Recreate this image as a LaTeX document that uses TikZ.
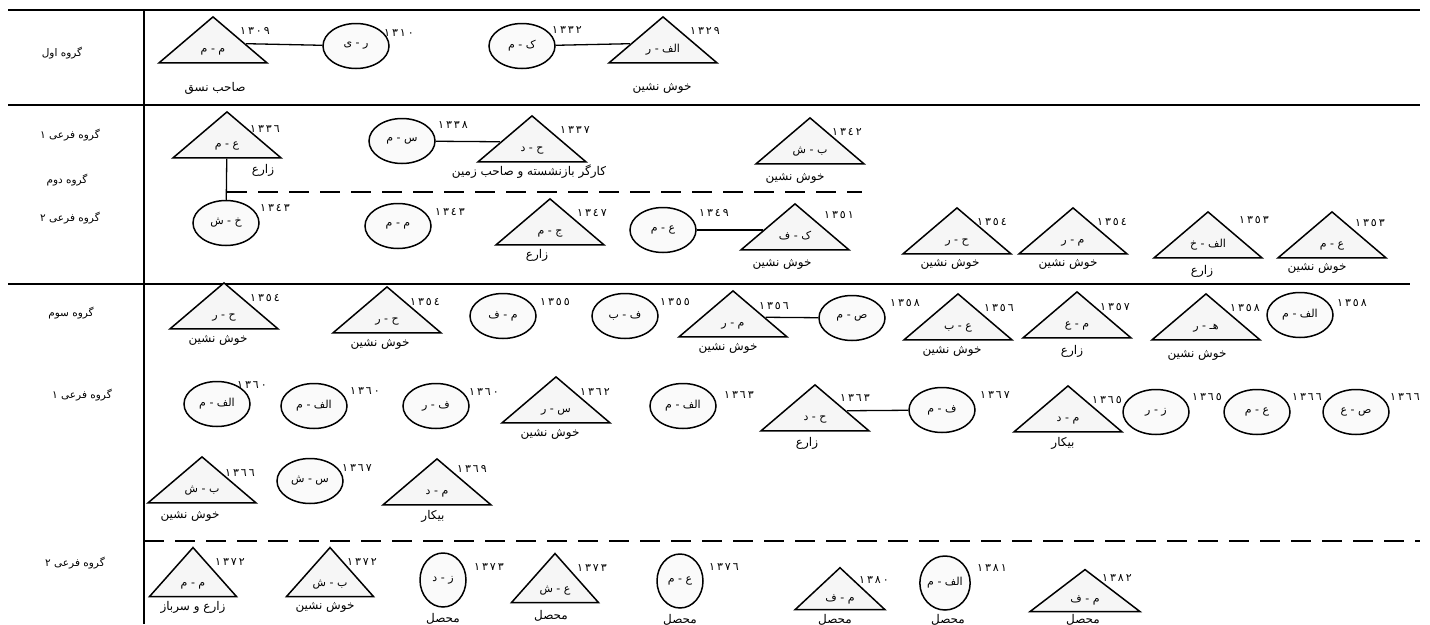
\documentclass[tikz,border=0pt]{standalone}
\usepackage{fontspec}
\usetikzlibrary{shapes.geometric}
\newfontfamily\arabicfont[Script=Arabic]{DejaVu Sans}
\newfontfamily\yearfont[Script=Arabic, LetterSpace=18]{DejaVu Sans}
\TeXXeTstate=1
\newcommand{\fa}[1]{\beginR #1\endR}
% text in a triangle takes no room, so the triangle keeps its size
\newcommand{\ini}[1]{\makebox[0pt]{\raisebox{-9pt}[0pt][0pt]{\fa{#1}}}}

\begin{document}
\begin{tikzpicture}[
    x=1pt, y=-1pt,
    tri/.style={draw, line width=1.5pt, fill=gray!7, isosceles triangle,
      isosceles triangle stretches, shape border rotate=90,
      minimum width=108pt, minimum height=46pt, inner sep=0pt,
      font=\arabicfont\fontsize{11}{12}\selectfont},
    person/.style={draw, ellipse, line width=1.5pt, fill=gray!4,
      minimum width=66pt, minimum height=45pt, inner sep=0pt,
      font=\arabicfont\fontsize{11}{12}\selectfont},
    year/.style={font=\yearfont\fontsize{11}{12}\selectfont, inner sep=0pt},
    job/.style={font=\arabicfont\fontsize{12}{13}\selectfont, inner sep=0pt},
    grp/.style={font=\arabicfont\fontsize{10.5}{12}\selectfont, inner sep=0pt},
    link/.style={line width=1.3pt},
    rule/.style={line width=1.6pt},
    split/.style={line width=1.5pt, dash pattern=on 20pt off 11pt}
  ]
  \useasboundingbox (0,0) rectangle (1430,624);

  % table rules
  \draw[rule] (8,10) -- (1420,10);
  \draw[rule] (8,105) -- (1420,105);
  \draw[rule] (8,284) -- (1410,284);
  \draw[rule] (144,10) -- (144,624);
  \draw[split] (227,192) -- (862,192);
  \draw[split] (144,541) -- (1420,541);

  % group names
  \node[grp] (g1) at (62,53) {\fa{گروه اول}};
  \node[grp] (g2) at (70,135) {\fa{گروه فرعی ١}};
  \node[grp] (g3) at (67,180) {\fa{گروه دوم}};
  \node[grp] (g4) at (70,218) {\fa{گروه فرعی ٢}};
  \node[grp] (g5) at (71,313) {\fa{گروه سوم}};
  \node[grp] (g6) at (82,395) {\fa{گروه فرعی ١}};
  \node[grp] (g7) at (75,563) {\fa{گروه فرعی ٢}};

  % first group
  \node[tri] (a1) at (213,43) {\ini{م - م}};
  \node[year] (a1y) at (255,31) {١٣٠٩};
  \node[job] (a1j) at (215,88) {\fa{صاحب نسق}};
  \node[person] (a2) at (356,46) {\fa{ر - ی}};
  \node[year] (a2y) at (399,33) {١٣١٠};
  \node[person] (a3) at (522,46) {\fa{ک - م}};
  \node[year] (a3y) at (567,30) {١٣٣٢};
  \node[tri] (a4) at (663,43) {\ini{الف - ر}};
  \node[year] (a4y) at (705,31) {١٣٢٩};
  \node[job] (a4j) at (662,88) {\fa{خوش نشین}};
  \draw[link] (a1) -- (a2);
  \draw[link] (a3) -- (a4);

  % second group
  \node[tri] (b1) at (227,138) {\ini{ع - م}};
  \node[year] (b1y) at (265,129) {١٣٣٦};
  \node[job] (b1j) at (263,170) {\fa{زارع}};
  \node[person] (b2) at (226,223) {\fa{خ - ش}};
  \node[year] (b2y) at (275,208) {١٣٤٣};
  \node[person] (b3) at (402,141) {\fa{س - م}};
  \node[year] (b3y) at (453,125) {١٣٣٨};
  \node[tri] (b4) at (532,142) {\ini{ح - د}};
  \node[year] (b4y) at (575,130) {١٣٣٧};
  \node[job] (b4j) at (529,172) {\fa{کارگر بازنشسته و صاحب زمین}};
  \node[tri] (b5) at (810,144) {\ini{ب - ش}};
  \node[year] (b5y) at (847,132) {١٣٤٢};
  \node[job] (b5j) at (795,178) {\fa{خوش نشین}};
  \node[person] (b6) at (398,226) {\fa{م - م}};
  \node[year] (b6y) at (450,212) {١٣٤٣};
  \node[tri] (b7) at (550,225) {\ini{ج - م}};
  \node[year] (b7y) at (592,213) {١٣٤٧};
  \node[job] (b7j) at (537,255) {\fa{زارع}};
  \node[person] (b8) at (663,230) {\fa{ع - م}};
  \node[year] (b8y) at (714,213) {١٣٤٩};
  \node[tri] (b9) at (795,230) {\ini{ک - ف}};
  \node[year] (b9y) at (839,215) {١٣٥١};
  \node[job] (b9j) at (782,264) {\fa{خوش نشین}};
  \node[tri] (b10) at (957,234) {\ini{ح - ر}};
  \node[year] (b10y) at (992,222) {١٣٥٤};
  \node[job] (b10j) at (950,264) {\fa{خوش نشین}};
  \node[tri] (b11) at (1073,234) {\ini{م - ر}};
  \node[year] (b11y) at (1112,222) {١٣٥٤};
  \node[job] (b11j) at (1068,264) {\fa{خوش نشین}};
  \node[tri] (b12) at (1208,238) {\ini{الف - خ}};
  \node[year] (b12y) at (1254,220) {١٣٥٣};
  \node[job] (b12j) at (1202,271) {\fa{زارع}};
  \node[tri] (b13) at (1332,238) {\ini{ع - م}};
  \node[year] (b13y) at (1370,223) {١٣٥٣};
  \node[job] (b13j) at (1317,268) {\fa{خوش نشین}};
  \draw[link] (b1) -- (b2);
  \draw[link] (b3) -- (b4);
  \draw[link] (b8) -- (b9);

  % third group
  \node[tri] (c1) at (224,309) {\ini{ح - ر}};
  \node[year] (c1y) at (265,298) {١٣٥٤};
  \node[job] (c1j) at (218,340) {\fa{خوش نشین}};
  \node[tri] (c2) at (387,313) {\ini{ح - ر}};
  \node[year] (c2y) at (425,302) {١٣٥٤};
  \node[job] (c2j) at (380,344) {\fa{خوش نشین}};
  \node[person] (c3) at (503,316) {\fa{م - ف}};
  \node[year] (c3y) at (555,302) {١٣٥٥};
  \node[person] (c4) at (625,316) {\fa{ف - ب}};
  \node[year] (c4y) at (675,302) {١٣٥٥};
  \node[tri] (c5) at (733,317) {\ini{م - ر}};
  \node[year] (c5y) at (774,306) {١٣٥٦};
  \node[job] (c5j) at (728,348) {\fa{خوش نشین}};
  \node[person] (c6) at (852,318) {\fa{ص - م}};
  \node[year] (c6y) at (905,303) {١٣٥٨};
  \node[tri] (c7) at (958,320) {\ini{ع - ب}};
  \node[year] (c7y) at (999,308) {١٣٥٦};
  \node[job] (c7j) at (952,351) {\fa{خوش نشین}};
  \node[tri] (c8) at (1077,318) {\ini{م - ع}};
  \node[year] (c8y) at (1115,307) {١٣٥٧};
  \node[job] (c8j) at (1072,351) {\fa{زارع}};
  \node[tri] (c9) at (1206,320) {\ini{هـ - ر}};
  \node[year] (c9y) at (1245,308) {١٣٥٨};
  \node[job] (c9j) at (1197,355) {\fa{خوش نشین}};
  \node[person] (c10) at (1300,315) {\fa{الف - م}};
  \node[year] (c10y) at (1352,303) {١٣٥٨};
  \draw[link] (c5) -- (c6);

  \node[person] (c11) at (217,404) {\fa{الف - م}};
  \node[year] (c11y) at (252,385) {١٣٦٠};
  \node[person] (c12) at (314,406) {\fa{الف - م}};
  \node[year] (c12y) at (365,391) {١٣٦٠};
  \node[person] (c13) at (436,406) {\fa{ف - ر}};
  \node[year] (c13y) at (484,392) {١٣٦٠};
  \node[tri] (c14) at (556,403) {\ini{س - ر}};
  \node[year] (c14y) at (595,392) {١٣٦٢};
  \node[job] (c14j) at (550,434) {\fa{خوش نشین}};
  \node[person] (c15) at (683,406) {\fa{الف - م}};
  \node[year] (c15y) at (739,395) {١٣٦٣};
  \node[tri] (c16) at (815,411) {\ini{ح - د}};
  \node[year] (c16y) at (855,398) {١٣٦٣};
  \node[job] (c16j) at (807,443) {\fa{زارع}};
  \node[person] (c17) at (942,410) {\fa{ف - م}};
  \node[year] (c17y) at (995,395) {١٣٦٧};
  \node[tri] (c18) at (1068,412) {\ini{م - د}};
  \node[year] (c18y) at (1107,400) {١٣٦٥};
  \node[job] (c18j) at (1063,443) {\fa{بیکار}};
  \node[person] (c19) at (1156,412) {\fa{ز - ر}};
  \node[year] (c19y) at (1207,397) {١٣٦٥};
  \node[person] (c20) at (1257,412) {\fa{ع - م}};
  \node[year] (c20y) at (1307,397) {١٣٦٦};
  \node[person] (c21) at (1356,412) {\fa{ص - ع}};
  \node[year] (c21y) at (1405,397) {١٣٦٦};
  \draw[link] (c16) -- (c17);

  \node[tri] (c22) at (202,483) {\ini{ب - ش}};
  \node[year] (c22y) at (240,473) {١٣٦٦};
  \node[job] (c22j) at (190,516) {\fa{خوش نشین}};
  \node[person] (c23) at (310,481) {\fa{س - ش}};
  \node[year] (c23y) at (357,468) {١٣٦٧};
  \node[tri] (c24) at (437,485) {\ini{م - د}};
  \node[year] (c24y) at (472,469) {١٣٦٩};
  \node[job] (c24j) at (433,516) {\fa{بیکار}};

  % last subgroup
  \node[tri, minimum width=87pt, minimum height=49pt] (d1) at (193,577) {\ini{م - م}};
  \node[year] (d1y) at (230,562) {١٣٧٢};
  \node[job] (d1j) at (193,607) {\fa{زارع و سرباز}};
  \node[tri, minimum width=87pt, minimum height=49pt] (d2) at (330,577) {\ini{ب - ش}};
  \node[year] (d2y) at (362,562) {١٣٧٢};
  \node[job] (d2j) at (325,607) {\fa{خوش نشین}};
  \node[person, minimum width=46pt, minimum height=54pt] (d3) at (443,580) {\fa{ز - د}};
  \node[year] (d3y) at (489,567) {١٣٧٣};
  \node[job] (d3j) at (443,619) {\fa{محصل}};
  \node[tri, minimum width=87pt, minimum height=49pt] (d4) at (555,583) {\ini{ع - ش}};
  \node[year] (d4y) at (592,568) {١٣٧٣};
  \node[job] (d4j) at (551,616) {\fa{محصل}};
  \node[person, minimum width=46pt, minimum height=54pt] (d5) at (680,581) {\fa{ع - م}};
  \node[year] (d5y) at (724,567) {١٣٧٦};
  \node[job] (d5j) at (680,620) {\fa{محصل}};
  \node[tri, minimum width=90pt, minimum height=42pt] (d6) at (840,592) {\ini{م - ف}};
  \node[year] (d6y) at (874,580) {١٣٨٠};
  \node[job] (d6j) at (835,620) {\fa{محصل}};
  \node[person, minimum width=46pt, minimum height=54pt] (d7) at (945,583) {\fa{الف - م}};
  \node[year] (d7y) at (992,568) {١٣٨١};
  \node[job] (d7j) at (948,620) {\fa{محصل}};
  \node[tri, minimum width=110pt, minimum height=42pt] (d8) at (1085,593) {\ini{م - ف}};
  \node[year] (d8y) at (1117,578) {١٣٨٢};
  \node[job] (d8j) at (1083,620) {\fa{محصل}};
\end{tikzpicture}
\end{document}
